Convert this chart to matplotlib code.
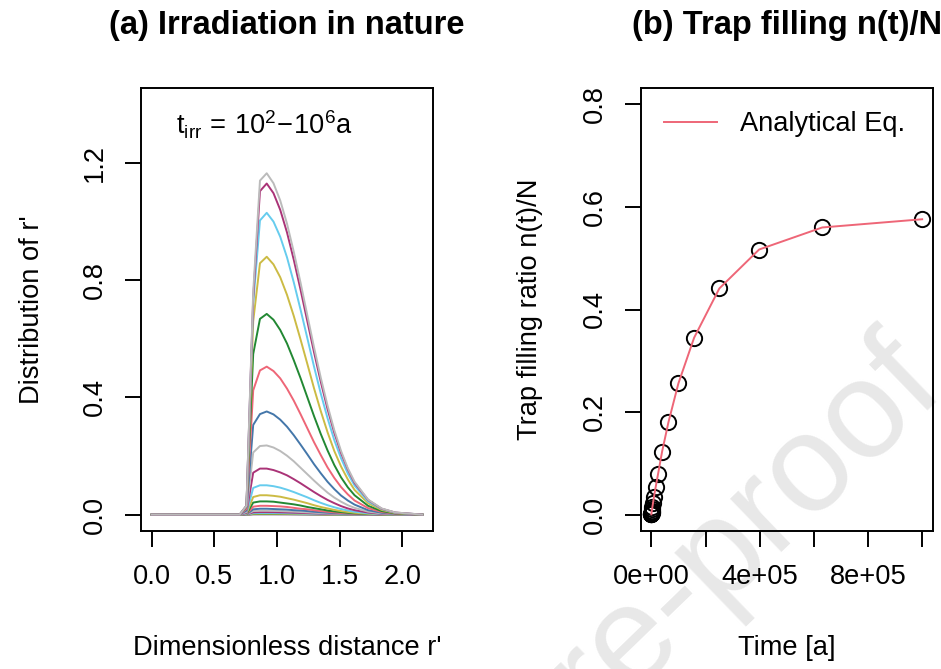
import matplotlib
matplotlib.use("Agg")
import matplotlib.pyplot as plt

plt.rcParams['font.family'] = ['Liberation Sans', 'DejaVu Sans']
plt.rcParams['mathtext.fontset'] = 'custom'
plt.rcParams['mathtext.rm'] = 'Liberation Sans'
plt.rcParams['mathtext.it'] = 'Liberation Sans:italic'

# ---------- panel (a): distribution of r' for t_irr = 10^2 ... 10^6 a ----------
r_grid = [0.0, 0.702, 0.756, 0.810, 0.864, 0.918, 0.972, 1.026, 1.080, 1.134,
          1.188, 1.242, 1.296, 1.350, 1.404, 1.458, 1.512, 1.566, 1.620,
          1.728, 1.836, 1.944, 2.160]

dist_curves = [
    [0, 0, 0.0, 0.0008, 0.0009, 0.0009, 0.0009, 0.0008, 0.0008, 0.0007, 0.0006, 0.0005, 0.0004, 0.0004, 0.0003, 0.0002, 0.0002, 0.0001, 0.0001, 0, 0, 0, 0],
    [0, 0, 0.0001, 0.0013, 0.0014, 0.0014, 0.0014, 0.0013, 0.0012, 0.0011, 0.001, 0.0008, 0.0007, 0.0006, 0.0004, 0.0003, 0.0003, 0.0002, 0.0001, 0.0001, 0, 0, 0],
    [0, 0, 0.0001, 0.002, 0.0022, 0.0022, 0.0021, 0.002, 0.0019, 0.0017, 0.0015, 0.0013, 0.0011, 0.0009, 0.0007, 0.0005, 0.0004, 0.0003, 0.0002, 0.0001, 0, 0, 0],
    [0, 0, 0.0001, 0.0032, 0.0035, 0.0035, 0.0034, 0.0032, 0.003, 0.0027, 0.0024, 0.002, 0.0017, 0.0014, 0.0011, 0.0009, 0.0007, 0.0005, 0.0003, 0.0002, 0.0001, 0, 0],
    [0, 0, 0.0002, 0.005, 0.0055, 0.0055, 0.0053, 0.0051, 0.0047, 0.0042, 0.0037, 0.0032, 0.0027, 0.0022, 0.0018, 0.0014, 0.001, 0.0007, 0.0005, 0.0002, 0.0001, 0, 0],
    [0, 0, 0.0003, 0.0077, 0.0085, 0.0085, 0.0083, 0.0078, 0.0072, 0.0065, 0.0058, 0.005, 0.0042, 0.0034, 0.0027, 0.0021, 0.0016, 0.0012, 0.0008, 0.0004, 0.0002, 0.0001, 0],
    [0, 0, 0.0005, 0.012, 0.013, 0.013, 0.0126, 0.012, 0.011, 0.010, 0.0088, 0.0076, 0.0064, 0.0052, 0.0041, 0.0032, 0.0024, 0.0018, 0.0012, 0.0006, 0.0002, 0.0001, 0],
    [0, 0, 0.0008, 0.018, 0.020, 0.020, 0.019, 0.018, 0.017, 0.015, 0.014, 0.012, 0.0098, 0.008, 0.0064, 0.0049, 0.0037, 0.0027, 0.0019, 0.0009, 0.0004, 0.0001, 0],
    [0, 0, 0.0012, 0.027, 0.030, 0.030, 0.029, 0.028, 0.026, 0.023, 0.020, 0.018, 0.015, 0.012, 0.0096, 0.0074, 0.0056, 0.0041, 0.0029, 0.0013, 0.0005, 0.0002, 0],
    [0, 0, 0.002, 0.041, 0.045, 0.045, 0.044, 0.041, 0.038, 0.035, 0.031, 0.026, 0.022, 0.018, 0.014, 0.011, 0.0084, 0.0061, 0.0043, 0.002, 0.0008, 0.0003, 0],
    [0, 0, 0.003, 0.060, 0.066, 0.066, 0.064, 0.061, 0.056, 0.051, 0.045, 0.039, 0.032, 0.026, 0.021, 0.016, 0.012, 0.009, 0.0063, 0.0029, 0.0012, 0.0004, 0],
    [0, 0, 0.004, 0.091, 0.100, 0.100, 0.097, 0.092, 0.085, 0.077, 0.068, 0.059, 0.049, 0.040, 0.032, 0.025, 0.019, 0.014, 0.0096, 0.0044, 0.0018, 0.0006, 0],
    [0, 0, 0.006, 0.143, 0.157, 0.157, 0.152, 0.144, 0.134, 0.121, 0.107, 0.092, 0.077, 0.063, 0.050, 0.039, 0.029, 0.021, 0.015, 0.0069, 0.0028, 0.001, 0],
    [0, 0, 0.009, 0.212, 0.234, 0.236, 0.229, 0.217, 0.201, 0.182, 0.160, 0.138, 0.116, 0.095, 0.075, 0.058, 0.044, 0.032, 0.023, 0.010, 0.0042, 0.0015, 0],
    [0, 0, 0.014, 0.306, 0.343, 0.352, 0.342, 0.324, 0.300, 0.271, 0.239, 0.206, 0.172, 0.141, 0.112, 0.087, 0.065, 0.048, 0.034, 0.015, 0.0063, 0.0022, 0],
    [0, 0, 0.020, 0.424, 0.492, 0.505, 0.490, 0.465, 0.430, 0.389, 0.343, 0.295, 0.247, 0.203, 0.161, 0.125, 0.094, 0.069, 0.048, 0.022, 0.009, 0.0032, 0],
    [0, 0, 0.027, 0.548, 0.668, 0.685, 0.665, 0.630, 0.584, 0.527, 0.466, 0.401, 0.336, 0.275, 0.219, 0.169, 0.127, 0.093, 0.066, 0.030, 0.012, 0.0043, 0],
    [0, 0, 0.030, 0.660, 0.858, 0.880, 0.854, 0.810, 0.750, 0.678, 0.598, 0.515, 0.431, 0.353, 0.281, 0.217, 0.164, 0.120, 0.084, 0.039, 0.016, 0.0055, 0],
    [0, 0, 0.030, 0.720, 1.004, 1.030, 1.000, 0.948, 0.878, 0.793, 0.700, 0.603, 0.505, 0.413, 0.329, 0.254, 0.192, 0.140, 0.099, 0.045, 0.019, 0.0065, 0],
    [0, 0, 0.030, 0.740, 1.104, 1.130, 1.097, 1.040, 0.963, 0.870, 0.768, 0.661, 0.554, 0.453, 0.360, 0.279, 0.210, 0.154, 0.108, 0.050, 0.020, 0.0071, 0],
    [0, 0, 0.030, 0.760, 1.140, 1.165, 1.131, 1.072, 0.993, 0.897, 0.792, 0.681, 0.571, 0.467, 0.372, 0.288, 0.217, 0.158, 0.112, 0.051, 0.021, 0.0073, 0],
]

curve_colors = ['#4477AA', '#EE6677', '#228833', '#CCBB44', '#66CCEE', '#AA3377', '#BBBBBB']

# ---------- panel (b): trap filling ratio vs time ----------
time_a = [1.0e2, 1.58e2, 2.51e2, 3.98e2, 6.31e2, 1.0e3, 1.58e3, 2.51e3, 3.98e3, 6.31e3,
          1.0e4, 1.58e4, 2.51e4, 3.98e4, 6.31e4, 1.0e5, 1.58e5, 2.51e5, 3.98e5, 6.31e5, 1.0e6]
fill_ratio = [0.0005, 0.0007, 0.0011, 0.0018, 0.0028, 0.0043, 0.0066, 0.010, 0.015, 0.023,
              0.035, 0.053, 0.080, 0.123, 0.180, 0.256, 0.345, 0.441, 0.517, 0.560, 0.576]

x_ticks_b = [0, 2e5, 4e5, 6e5, 8e5, 1e6]
x_labels_b = ['0e+00', '', '4e+05', '', '8e+05', '']

TICK_FS = 19.6
TITLE_FS = 23.5
LW = 1.4

fig = plt.figure(figsize=(9.41, 6.69), dpi=100)
ax1 = fig.add_axes([141 / 941, 138 / 669, 292 / 941, 443 / 669])
ax2 = fig.add_axes([640.5 / 941, 138 / 669, 292.5 / 941, 443 / 669])

# watermark behind everything
fig.text(948 / 941, 1 - 392 / 669, 'Journal Pre-proof', fontsize=100, color='#E8E8E8',
         rotation=44, rotation_mode='anchor', ha='right', va='baseline', zorder=-1)

for ax in (ax1, ax2):
    ax.set_facecolor('none')
    for s in ax.spines.values():
        s.set_linewidth(LW)
    ax.tick_params(direction='out', length=11.5, width=LW, labelsize=TICK_FS, pad=12)

# panel (a)
for k, vals in enumerate(dist_curves):
    ax1.plot(r_grid, vals, color=curve_colors[k % 7], lw=LW)
ax1.set_xlim(-0.0864, 2.2464)
ax1.set_ylim(-0.056, 1.456)
ax1.set_xticks([0.0, 0.5, 1.0, 1.5, 2.0])
ax1.set_xticklabels(['0.0', '0.5', '1.0', '1.5', '2.0'])
ax1.set_yticks([0.0, 0.4, 0.8, 1.2])
ax1.set_yticklabels(['0.0', '0.4', '0.8', '1.2'])
plt.setp(ax1.get_yticklabels(), rotation=90, va='center')
ax1.set_xlabel("Dimensionless distance r'", fontsize=TICK_FS)
ax1.set_ylabel("Distribution of r'", fontsize=TICK_FS)
ax1.xaxis.set_label_coords(0.5, -0.235)
ax1.yaxis.set_label_coords(-0.329, 0.5)
ax1.set_title('(a) Irradiation in nature', fontsize=TITLE_FS, fontweight='bold', y=1.122, pad=0)
ax1.text(0.421, 0.916, r'$\mathregular{t_{irr}\,=\,10^{2}\!-\!10^{6}a}$', transform=ax1.transAxes,
         ha='center', va='center', fontsize=TICK_FS)

# panel (b)
ax2.plot(time_a, fill_ratio, linestyle='none', marker='o', ms=11, mfc='none', mec='black',
         mew=LW, zorder=2)
ax2.plot(time_a, fill_ratio, color='#EE6677', lw=LW, zorder=3, label='Analytical Eq.')
ax2.set_xlim(-4e4, 1.04e6)
ax2.set_ylim(-0.032, 0.832)
ax2.set_xticks(x_ticks_b)
ax2.set_xticklabels(x_labels_b)
ax2.set_yticks([0.0, 0.2, 0.4, 0.6, 0.8])
ax2.set_yticklabels(['0.0', '0.2', '0.4', '0.6', '0.8'])
plt.setp(ax2.get_yticklabels(), rotation=90, va='center')
ax2.set_xlabel('Time [a]', fontsize=TICK_FS)
ax2.set_ylabel('Trap filling ratio n(t)/N', fontsize=TICK_FS)
ax2.xaxis.set_label_coords(0.5, -0.235)
ax2.yaxis.set_label_coords(-0.333, 0.5)
ax2.set_title('(b) Trap filling n(t)/N', fontsize=TITLE_FS, fontweight='bold', y=1.122, pad=0)
ax2.legend(loc='center left', bbox_to_anchor=(0.0803, 0.918), frameon=False, fontsize=TICK_FS,
           borderpad=0, borderaxespad=0, handlelength=1.95, handletextpad=0.85)

fig.savefig('out.png', dpi=100)
